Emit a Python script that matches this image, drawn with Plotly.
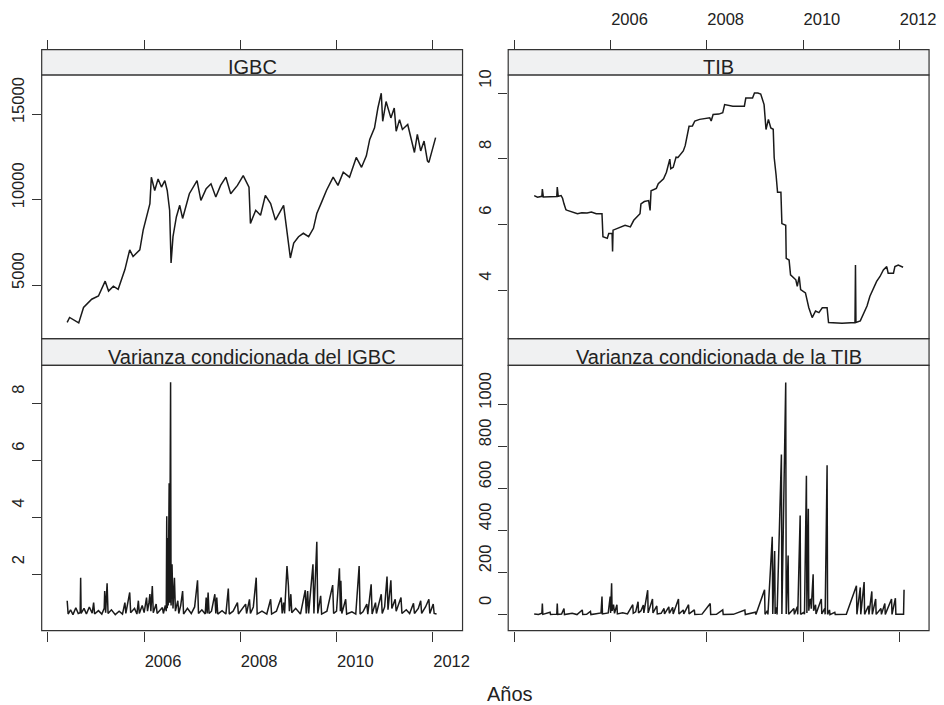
import plotly.graph_objects as go

# ---------------- data ----------------
igbc_t = [2004.40, 2004.45, 2004.64, 2004.74, 2004.91, 2005.05, 2005.19, 2005.26, 2005.36, 2005.46,
          2005.60, 2005.70, 2005.77, 2005.91, 2005.98, 2006.05, 2006.12, 2006.15, 2006.22, 2006.29,
          2006.36, 2006.43, 2006.48, 2006.53, 2006.56, 2006.60, 2006.67, 2006.74, 2006.80, 2006.94,
          2007.10, 2007.18, 2007.29, 2007.39, 2007.49, 2007.59, 2007.70, 2007.80, 2007.94, 2008.06,
          2008.18, 2008.21, 2008.32, 2008.42, 2008.52, 2008.63, 2008.73, 2008.90, 2008.97, 2009.04,
          2009.11, 2009.21, 2009.31, 2009.42, 2009.52, 2009.59, 2009.69, 2009.79, 2009.93, 2010.03,
          2010.14, 2010.27, 2010.41, 2010.52, 2010.62, 2010.69, 2010.79, 2010.86, 2010.93, 2010.96,
          2011.03, 2011.13, 2011.20, 2011.24, 2011.31, 2011.37, 2011.48, 2011.55, 2011.62, 2011.68,
          2011.75, 2011.82, 2011.89, 2011.92, 2011.99, 2012.06]
igbc_v = [2816, 3100, 2780, 3690, 4170, 4360, 5230, 4650, 4940, 4750,
          5910, 7070, 6680, 7070, 8230, 9000, 9780, 11330, 10550, 11230,
          10750, 11130, 10550, 9390, 6300, 7840, 9000, 9680, 8910, 10360,
          11130, 9970, 10650, 10940, 10170, 10850, 11330, 10360, 10850, 11420,
          10750, 8620, 9390, 9100, 10260, 9780, 8810, 9680, 8230, 6590,
          7460, 7840, 8040, 7840, 8330, 9200, 9870, 10550, 11330, 10850,
          11620, 11330, 12490, 11910, 12580, 13550, 14230, 15390, 16260, 14610,
          15770, 14810, 15390, 14030, 14710, 14130, 14420, 13650, 12780, 13840,
          12870, 13450, 12290, 12200, 12870, 13650]

tib_t = [2004.41, 2004.48, 2004.57, 2004.58, 2004.60, 2004.75, 2004.88, 2004.89, 2004.91, 2004.97,
         2005.00, 2005.03, 2005.07, 2005.10, 2005.20, 2005.31, 2005.40, 2005.51, 2005.60, 2005.70,
         2005.82, 2005.84, 2005.93, 2005.96, 2006.03, 2006.04, 2006.05, 2006.20, 2006.30, 2006.41,
         2006.48, 2006.61, 2006.63, 2006.70, 2006.79, 2006.82, 2006.84, 2006.95, 2006.99, 2007.10,
         2007.16, 2007.23, 2007.25, 2007.30, 2007.36, 2007.40, 2007.51, 2007.55, 2007.58, 2007.63,
         2007.70, 2007.75, 2007.85, 2007.95, 2008.06, 2008.09, 2008.13, 2008.25, 2008.33, 2008.37,
         2008.54, 2008.78, 2008.81, 2008.95, 2008.99, 2009.06, 2009.12, 2009.19, 2009.23, 2009.28,
         2009.33, 2009.38, 2009.40, 2009.44, 2009.47, 2009.54, 2009.56, 2009.64, 2009.65, 2009.71,
         2009.74, 2009.85, 2009.88, 2009.92, 2009.95, 2010.05, 2010.12, 2010.19, 2010.26, 2010.33,
         2010.40, 2010.50, 2010.53, 2010.81, 2011.08, 2011.09, 2011.10, 2011.19, 2011.26, 2011.33,
         2011.39, 2011.46, 2011.53, 2011.60, 2011.67, 2011.74, 2011.77, 2011.88, 2011.91, 2011.98,
         2012.08]
tib_v = [6.88, 6.83, 6.86, 7.08, 6.84, 6.85, 6.85, 7.14, 6.86, 6.88,
         6.80, 6.63, 6.45, 6.43, 6.38, 6.33, 6.36, 6.35, 6.38, 6.33,
         6.33, 5.63, 5.58, 5.73, 5.73, 5.18, 5.83, 5.93, 5.98, 5.93,
         6.13, 6.33, 6.63, 6.70, 6.73, 6.43, 7.03, 7.10, 7.24, 7.39,
         7.59, 7.99, 7.70, 7.74, 8.05, 8.04, 8.24, 8.40, 8.64, 8.99,
         9.00, 9.15, 9.20, 9.22, 9.25, 9.15, 9.35, 9.36, 9.40, 9.65,
         9.60, 9.60, 9.85, 9.85, 10.00, 10.00, 9.97, 9.65, 8.89, 9.20,
         8.94, 8.90, 8.04, 7.50, 6.98, 6.98, 6.03, 5.98, 4.97, 4.92,
         4.47, 4.32, 4.12, 4.42, 4.02, 3.92, 3.47, 3.17, 3.37, 3.32,
         3.47, 3.47, 3.02, 3.00, 3.02, 4.77, 3.02, 3.07, 3.32, 3.52,
         3.82, 4.02, 4.27, 4.42, 4.62, 4.72, 4.52, 4.52, 4.72, 4.77,
         4.70]

vigbc_t = [2004.40, 2004.42, 2004.47, 2004.52, 2004.58, 2004.63, 2004.67, 2004.68, 2004.69, 2004.75,
           2004.80, 2004.86, 2004.92, 2004.95, 2004.97, 2005.05, 2005.12, 2005.17, 2005.18, 2005.20,
           2005.23, 2005.25, 2005.32, 2005.40, 2005.48, 2005.55, 2005.60, 2005.62, 2005.70, 2005.72,
           2005.80, 2005.85, 2005.88, 2005.90, 2005.96, 2006.00, 2006.05, 2006.07, 2006.10, 2006.12,
           2006.14, 2006.17, 2006.19, 2006.22, 2006.25, 2006.27, 2006.33, 2006.38, 2006.40, 2006.44,
           2006.46, 2006.47, 2006.48, 2006.49, 2006.50, 2006.52, 2006.53, 2006.55, 2006.56, 2006.58,
           2006.60, 2006.63, 2006.65, 2006.70, 2006.72, 2006.76, 2006.80, 2006.82, 2006.90, 2006.98,
           2007.05, 2007.11, 2007.13, 2007.20, 2007.27, 2007.29, 2007.31, 2007.33, 2007.35, 2007.40,
           2007.47, 2007.49, 2007.51, 2007.53, 2007.62, 2007.70, 2007.75, 2007.77, 2007.85, 2007.94,
           2007.96, 2008.03, 2008.11, 2008.13, 2008.19, 2008.21, 2008.27, 2008.33, 2008.35, 2008.45,
           2008.55, 2008.63, 2008.65, 2008.75, 2008.85, 2008.87, 2008.90, 2008.92, 2008.97, 2009.00,
           2009.02, 2009.05, 2009.07, 2009.15, 2009.25, 2009.35, 2009.37, 2009.40, 2009.42, 2009.51,
           2009.53, 2009.59, 2009.61, 2009.67, 2009.69, 2009.80, 2009.92, 2009.94, 2010.00, 2010.06,
           2010.08, 2010.09, 2010.11, 2010.19, 2010.21, 2010.32, 2010.40, 2010.47, 2010.49, 2010.55,
           2010.63, 2010.65, 2010.72, 2010.74, 2010.81, 2010.83, 2010.93, 2010.95, 2011.00, 2011.05,
           2011.07, 2011.13, 2011.15, 2011.22, 2011.24, 2011.34, 2011.36, 2011.45, 2011.52, 2011.60,
           2011.62, 2011.70, 2011.75, 2011.77, 2011.85, 2011.92, 2011.94, 2012.01, 2012.03, 2012.08]
vigbc_v = [1.07, 0.60, 0.75, 0.58, 0.82, 0.62, 0.65, 1.88, 0.62, 0.80,
           0.60, 0.85, 0.63, 1.00, 0.60, 0.72, 0.60, 0.80, 1.41, 0.65,
           1.68, 0.62, 0.75, 0.58, 0.70, 0.60, 1.00, 0.62, 1.36, 0.65,
           0.80, 0.60, 1.07, 0.62, 0.90, 0.65, 1.18, 0.70, 1.00, 1.30,
           0.70, 1.59, 0.65, 0.85, 0.95, 0.62, 0.75, 0.83, 0.62, 0.90,
           0.70, 4.04, 0.80, 3.28, 0.90, 5.20, 1.00, 8.76, 0.90, 2.35,
           0.80, 1.88, 0.70, 1.07, 0.62, 0.90, 1.41, 0.60, 0.80, 0.62,
           0.85, 1.79, 0.62, 0.75, 0.60, 1.18, 0.62, 1.36, 0.62, 0.70,
           1.30, 0.62, 1.18, 0.60, 0.72, 0.60, 1.50, 0.60, 0.70, 1.00,
           0.60, 0.75, 0.95, 0.62, 1.12, 0.62, 0.85, 1.88, 0.60, 0.70,
           0.60, 1.12, 0.60, 0.70, 1.18, 0.62, 1.00, 0.62, 2.29, 1.59,
           0.70, 1.30, 0.65, 0.80, 0.60, 1.44, 0.62, 1.41, 0.62, 2.35,
           0.62, 3.14, 0.62, 1.24, 0.60, 0.70, 1.62, 0.62, 0.70, 2.21,
           0.70, 1.77, 0.62, 1.12, 0.60, 0.68, 0.60, 2.29, 0.60, 0.68,
           0.95, 0.60, 1.65, 0.60, 1.00, 0.62, 1.30, 0.62, 0.85, 1.92,
           0.75, 1.79, 0.80, 1.12, 0.70, 1.18, 0.62, 0.75, 0.62, 0.98,
           0.62, 0.80, 1.07, 0.62, 0.85, 1.12, 0.62, 0.95, 0.62, 0.60]

vtib_t = [2004.41, 2004.50, 2004.57, 2004.58, 2004.59, 2004.66, 2004.74, 2004.75, 2004.88, 2004.89,
          2004.90, 2004.98, 2005.03, 2005.04, 2005.20, 2005.30, 2005.41, 2005.42, 2005.50, 2005.58,
          2005.59, 2005.70, 2005.80, 2005.82, 2005.83, 2005.95, 2005.99, 2006.00, 2006.02, 2006.03,
          2006.06, 2006.08, 2006.13, 2006.14, 2006.25, 2006.35, 2006.46, 2006.47, 2006.52, 2006.57,
          2006.58, 2006.63, 2006.68, 2006.69, 2006.77, 2006.78, 2006.87, 2006.88, 2006.96, 2006.97,
          2007.05, 2007.11, 2007.12, 2007.21, 2007.22, 2007.29, 2007.30, 2007.41, 2007.42, 2007.51,
          2007.52, 2007.62, 2007.63, 2007.74, 2007.75, 2007.90, 2008.07, 2008.08, 2008.20, 2008.33,
          2008.34, 2008.55, 2008.79, 2008.80, 2009.01, 2009.02, 2009.20, 2009.21, 2009.26, 2009.27,
          2009.36, 2009.37, 2009.41, 2009.42, 2009.45, 2009.46, 2009.55, 2009.56, 2009.64, 2009.65,
          2009.69, 2009.70, 2009.81, 2009.82, 2009.88, 2009.89, 2009.94, 2009.95, 2010.02, 2010.03,
          2010.07, 2010.08, 2010.11, 2010.12, 2010.14, 2010.16, 2010.17, 2010.21, 2010.22, 2010.26,
          2010.27, 2010.38, 2010.39, 2010.45, 2010.46, 2010.50, 2010.51, 2010.55, 2010.56, 2010.66,
          2010.67, 2010.90, 2011.11, 2011.12, 2011.19, 2011.20, 2011.27, 2011.28, 2011.36, 2011.37,
          2011.43, 2011.44, 2011.51, 2011.52, 2011.62, 2011.63, 2011.70, 2011.71, 2011.84, 2011.85,
          2011.92, 2011.93, 2012.09, 2012.10]
vtib_v = [5, 2, 8, 55, 3, 6, 13, 2, 4, 55,
          3, 5, 31, 2, 8, 2, 24, 2, 3, 17,
          2, 6, 10, 88, 5, 10, 88, 10, 151, 20,
          49, 8, 49, 5, 10, 5, 49, 8, 15, 63,
          10, 20, 47, 10, 118, 10, 76, 10, 43, 5,
          8, 31, 5, 39, 8, 36, 5, 76, 5, 24,
          5, 49, 5, 24, 2, 4, 55, 2, 3, 24,
          2, 3, 24, 2, 13, 2, 120, 3, 20, 3,
          372, 5, 304, 5, 36, 3, 764, 5, 1107, 5,
          283, 3, 31, 3, 39, 3, 474, 3, 13, 3,
          663, 10, 506, 20, 70, 76, 30, 194, 20, 49,
          5, 76, 5, 31, 3, 713, 3, 24, 2, 13,
          2, 3, 139, 3, 131, 3, 157, 3, 44, 3,
          112, 3, 76, 3, 31, 3, 55, 3, 76, 3,
          80, 3, 3, 120]

panel_titles = ["IGBC", "TIB", "Varianza condicionada del IGBC", "Varianza condicionada de la TIB"]
x_tickvals = [2004, 2006, 2008, 2010, 2012]
x_ticktext = ["", "2006", "2008", "2010", "2012"]
igbc_ticks = [5000, 10000, 15000]
tib_ticks = [4, 6, 8, 10]
vigbc_ticks = [2, 4, 6, 8]
vtib_ticks = [0, 200, 400, 600, 800, 1000]
xlabel = "Años"

# ---------------- layout geometry ----------------
W, H = 944, 705
def px(x): return x / W
def py(y): return 1 - y / H

xL = [px(42), px(466)]
xR = [px(512), px(936)]
yTop = [py(336), py(70.5)]
yBot = [py(630), py(363)]
stripTop = [py(70.5), py(45)]
stripBot = [py(363), py(336)]

XR = [2003.87, 2012.62]
FONT = "Liberation Sans, Arial, sans-serif"
TXT = "#222222"
AX = "#333333"
LINE = "#1a1a1a"

fig = go.Figure()
fig.add_trace(go.Scatter(x=igbc_t, y=igbc_v, mode="lines", line=dict(color=LINE, width=1.5),
                         xaxis="x", yaxis="y", showlegend=False))
fig.add_trace(go.Scatter(x=tib_t, y=tib_v, mode="lines", line=dict(color=LINE, width=1.5),
                         xaxis="x2", yaxis="y2", showlegend=False))
fig.add_trace(go.Scatter(x=vigbc_t, y=vigbc_v, mode="lines", line=dict(color=LINE, width=1.5),
                         xaxis="x3", yaxis="y3", showlegend=False))
fig.add_trace(go.Scatter(x=vtib_t, y=vtib_v, mode="lines", line=dict(color=LINE, width=1.5),
                         xaxis="x4", yaxis="y4", showlegend=False))

tickfont = dict(family=FONT, size=16.5, color=TXT)

def xax(domain, labels, top):
    d = dict(domain=domain, range=XR, showgrid=False, zeroline=False, showline=False,
             ticks="outside", ticklen=10, tickwidth=1, tickcolor=AX,
             tickmode="array", tickvals=x_tickvals, ticktext=x_ticktext,
             showticklabels=labels, tickfont=tickfont, ticklabelposition="outside right",
             ticklabelstandoff=16, fixedrange=True)
    if top:
        d.update(anchor="free", position=stripTop[1], side="top", ticklabelstandoff=18)
    return d

def yax(domain, anchor, rng, tv):
    return dict(domain=domain, anchor=anchor, range=rng, showgrid=False, zeroline=False,
                showline=False, ticks="outside", ticklen=9, tickwidth=1, tickcolor=AX,
                tickmode="array", tickvals=tv, ticktext=[str(v) for v in tv],
                tickangle=-90, tickfont=tickfont, ticklabelposition="outside top",
                ticklabelstandoff=10, fixedrange=True)

shapes = []
for xd in (xL, xR):
    for yd in (yTop, yBot):
        shapes.append(dict(type="rect", xref="paper", yref="paper", x0=xd[0], x1=xd[1],
                           y0=yd[0], y1=yd[1], line=dict(color=AX, width=1.2),
                           fillcolor="rgba(0,0,0,0)", layer="above"))
    for sd in (stripTop, stripBot):
        shapes.append(dict(type="rect", xref="paper", yref="paper", x0=xd[0], x1=xd[1],
                           y0=sd[0], y1=sd[1], line=dict(color=AX, width=1.2),
                           fillcolor="#f0f1f2", layer="below"))

annotations = []
for title, xd, sd in zip(panel_titles, [xL, xR, xL, xR], [stripTop, stripTop, stripBot, stripBot]):
    annotations.append(dict(text=title, xref="paper", yref="paper", x=(xd[0] + xd[1]) / 2,
                            y=sd[0], yanchor="bottom", xanchor="center", showarrow=False,
                            yshift=-5, font=dict(family=FONT, size=20, color=TXT)))
annotations.append(dict(text=xlabel, xref="paper", yref="paper", x=px(513.7), y=py(694),
                        xanchor="center", yanchor="middle", showarrow=False,
                        font=dict(family=FONT, size=20, color=TXT)))

fig.update_layout(
    width=W, height=H, autosize=False,
    margin=dict(l=0, r=0, t=0, b=0),
    paper_bgcolor="white", plot_bgcolor="white",
    xaxis=xax(xL, False, True),
    xaxis2=xax(xR, True, True),
    xaxis3=dict(xax(xL, True, False), anchor="y3"),
    xaxis4=dict(xax(xR, False, False), anchor="y4"),
    yaxis=yax(yTop, "x", [1860, 17326], igbc_ticks),
    yaxis2=yax(yTop, "x2", [2.53, 10.55], tib_ticks),
    yaxis3=yax(yBot, "x3", [0.02, 9.35], vigbc_ticks),
    yaxis4=yax(yBot, "x4", [-74, 1188], vtib_ticks),
    shapes=shapes, annotations=annotations,
    showlegend=False,
)

fig.write_html("out.html", config={"displayModeBar": False},
               post_script="document.body.style.margin='0px';document.body.style.overflow='hidden';")
